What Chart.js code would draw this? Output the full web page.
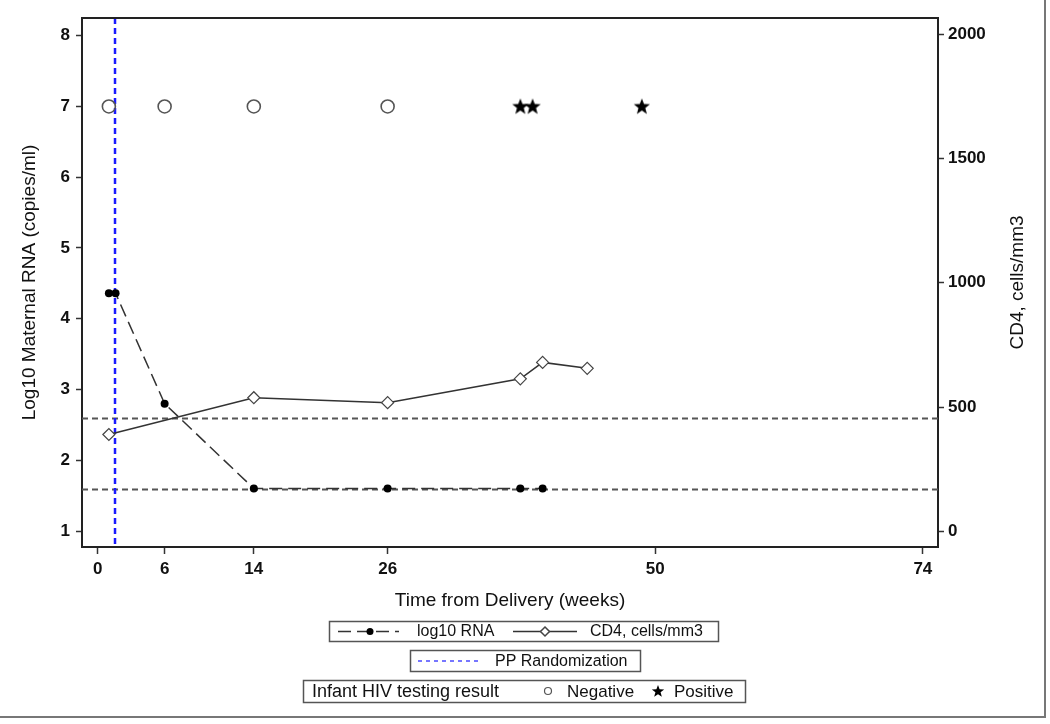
<!DOCTYPE html>
<html lang="en">
<head>
  <meta charset="UTF-8" />
  <title>Maternal RNA and CD4 after delivery</title>
  <script src="https://cdn.jsdelivr.net/npm/chart.js"></script>
  <style>
    html, body { margin: 0; padding: 0; background: #fff; }
    #wrap { width: 1050px; height: 724px; position: relative; }
  </style>
</head>
<body>
  <div id="wrap"><canvas id="chart" width="1050" height="724"></canvas></div>

  <script>
    // x axis (weeks from delivery)
    const xTicks = [0, 6, 14, 26, 50, 74];
    const leftTicks = [1, 2, 3, 4, 5, 6, 7, 8];
    const rightTicks = [0, 500, 1000, 1500, 2000];

    // maternal log10 RNA
    const rnaWeeks = [1, 1.6, 6, 14, 26, 37.9, 39.9];
    const rnaValues = [4.36, 4.36, 2.8, 1.6, 1.6, 1.6, 1.6];

    // CD4 cells/mm3
    const cd4Weeks = [1, 14, 26, 37.9, 39.9, 43.9];
    const cd4Values = [390, 538, 518, 614, 680, 656];

    // infant HIV test results (drawn on the row at log10 = 7)
    const infantRow = 7;
    const negativeWeeks = [1, 6, 14, 26];
    const positiveWeeks = [37.9, 39, 48.8];

    // reference lines and randomization time
    const refLines = [2.6, 1.6];
    const randomizationWeek = 1.55;

    const FONT = '"Liberation Sans", Arial, sans-serif';
    Chart.defaults.font.family = FONT;
    Chart.defaults.color = '#111';

    function starPath(ctx, cx, cy, outer, inner) {
      ctx.beginPath();
      for (let i = 0; i < 10; i++) {
        const r = i % 2 === 0 ? outer : inner;
        const a = -Math.PI / 2 + i * Math.PI / 5;
        const px = cx + r * Math.cos(a), py = cy + r * Math.sin(a);
        if (i === 0) ctx.moveTo(px, py); else ctx.lineTo(px, py);
      }
      ctx.closePath();
    }

    // filled star used as a point style
    const starImg = document.createElement('canvas');
    starImg.width = 20; starImg.height = 20;
    (function () {
      const c = starImg.getContext('2d');
      c.fillStyle = '#000';
      starPath(c, 10, 10.5, 8.5, 3.6);
      c.fill();
    })();

    const pairs = (xs, ys) => xs.map((x, i) => ({ x, y: ys[i] }));
    const plain = v => String(v);

    const overlay = {
      id: 'overlay',
      beforeDatasetsDraw(chart) {
        const { ctx, chartArea: a, scales } = chart;
        ctx.save();
        ctx.strokeStyle = '#555';
        ctx.lineWidth = 1.8;
        ctx.setLineDash([6, 4]);
        refLines.forEach(v => {
          const y = Math.round(scales.y.getPixelForValue(v)) + 0.5;
          ctx.beginPath(); ctx.moveTo(a.left, y); ctx.lineTo(a.right, y); ctx.stroke();
        });
        ctx.strokeStyle = '#1a1aff';
        ctx.lineWidth = 2.5;
        ctx.setLineDash([6, 4]);
        const x = scales.x.getPixelForValue(randomizationWeek);
        ctx.beginPath(); ctx.moveTo(x, a.top); ctx.lineTo(x, a.bottom); ctx.stroke();
        ctx.restore();
      },
      afterDraw(chart) {
        const { ctx, chartArea: a } = chart;
        ctx.save();
        // top frame line
        ctx.strokeStyle = '#222'; ctx.lineWidth = 2;
        ctx.beginPath(); ctx.moveTo(a.left, a.top); ctx.lineTo(a.right, a.top); ctx.stroke();

        // right axis title, reads upward
        ctx.fillStyle = '#111';
        ctx.font = '19px ' + FONT;
        ctx.textAlign = 'center'; ctx.textBaseline = 'middle';
        ctx.translate(1018, (a.top + a.bottom) / 2);
        ctx.rotate(-Math.PI / 2);
        ctx.fillText('CD4, cells/mm3', 0, 0);
        ctx.setTransform(1, 0, 0, 1, 0, 0);

        // legend boxes
        ctx.strokeStyle = '#555'; ctx.lineWidth = 1.5;
        ctx.strokeRect(329.5, 621.5, 389, 20);
        ctx.strokeRect(410.5, 650.5, 230, 21);
        ctx.strokeRect(303.5, 680.5, 442, 22);

        ctx.textAlign = 'left';
        // box 1
        ctx.strokeStyle = '#333'; ctx.lineWidth = 1.5; ctx.setLineDash([13, 6]);
        ctx.beginPath(); ctx.moveTo(338, 631.5); ctx.lineTo(399, 631.5); ctx.stroke();
        ctx.setLineDash([]);
        ctx.fillStyle = '#000';
        ctx.beginPath(); ctx.arc(370, 631.5, 3.5, 0, Math.PI * 2); ctx.fill();
        ctx.beginPath(); ctx.moveTo(513, 631.5); ctx.lineTo(577, 631.5); ctx.stroke();
        ctx.fillStyle = '#fff'; ctx.strokeStyle = '#444';
        ctx.beginPath();
        ctx.moveTo(545, 627); ctx.lineTo(549.5, 631.5); ctx.lineTo(545, 636); ctx.lineTo(540.5, 631.5);
        ctx.closePath(); ctx.fill(); ctx.stroke();
        ctx.fillStyle = '#111';
        ctx.font = '16px ' + FONT;
        ctx.fillText('log10 RNA', 417, 632);
        ctx.fillText('CD4, cells/mm3', 590, 632);

        // box 2
        ctx.strokeStyle = '#4a4aff'; ctx.lineWidth = 1.3; ctx.setLineDash([4, 4]);
        ctx.beginPath(); ctx.moveTo(418, 661); ctx.lineTo(478, 661); ctx.stroke();
        ctx.setLineDash([]);
        ctx.fillText('PP Randomization', 495, 661.5);

        // box 3
        ctx.font = '18px ' + FONT;
        ctx.fillText('Infant HIV testing result', 312, 692);
        ctx.strokeStyle = '#555'; ctx.lineWidth = 1.2;
        ctx.beginPath(); ctx.arc(548, 691, 3.5, 0, Math.PI * 2); ctx.stroke();
        ctx.font = '17px ' + FONT;
        ctx.fillText('Negative', 567, 692);
        ctx.fillStyle = '#000';
        starPath(ctx, 658, 691.5, 6.5, 2.7); ctx.fill();
        ctx.fillStyle = '#111';
        ctx.fillText('Positive', 674, 692);

        // outer figure border
        ctx.strokeStyle = '#777'; ctx.lineWidth = 2;
        ctx.beginPath(); ctx.moveTo(1045, 0); ctx.lineTo(1045, 717); ctx.lineTo(0, 717); ctx.stroke();
        ctx.restore();
      }
    };

    const tickFont = { size: 17, weight: 'bold' };

    new Chart(document.getElementById('chart').getContext('2d'), {
      type: 'line',
      data: {
        datasets: [
          {
            label: 'log10 RNA',
            data: pairs(rnaWeeks, rnaValues),
            yAxisID: 'y',
            borderColor: '#333',
            borderWidth: 1.5,
            borderDash: [13, 6],
            pointStyle: 'circle',
            pointRadius: 4,
            pointBackgroundColor: '#000',
            pointBorderColor: '#000',
            pointBorderWidth: 0,
            tension: 0
          },
          {
            label: 'CD4, cells/mm3',
            data: pairs(cd4Weeks, cd4Values),
            yAxisID: 'y2',
            borderColor: '#333',
            borderWidth: 1.5,
            pointStyle: 'rectRot',
            pointRadius: 6,
            pointBackgroundColor: '#fff',
            pointBorderColor: '#444',
            pointBorderWidth: 1.2,
            tension: 0
          },
          {
            label: 'Negative',
            data: negativeWeeks.map(x => ({ x, y: infantRow })),
            yAxisID: 'y',
            showLine: false,
            pointStyle: 'circle',
            pointRadius: 6.5,
            pointBackgroundColor: 'rgba(255,255,255,0)',
            pointBorderColor: '#555',
            pointBorderWidth: 1.6
          },
          {
            label: 'Positive',
            data: positiveWeeks.map(x => ({ x, y: infantRow })),
            yAxisID: 'y',
            showLine: false,
            pointStyle: starImg,
            pointRadius: 8
          }
        ]
      },
      options: {
        responsive: false,
        animation: false,
        events: [],
        layout: { padding: { left: 0, right: 0, top: 18, bottom: 112 } },
        plugins: { legend: { display: false }, tooltip: { enabled: false } },
        scales: {
          x: {
            type: 'linear',
            min: -1.41,
            max: 75.36,
            afterBuildTicks: s => { s.ticks = xTicks.map(v => ({ value: v })); },
            afterFit: s => { s.height = 65; },
            ticks: { font: tickFont, padding: 5, color: '#111', callback: plain },
            grid: { drawOnChartArea: false, tickLength: 7, color: '#333', tickWidth: 1.5 },
            border: { color: '#222', width: 2 },
            title: { display: true, text: 'Time from Delivery (weeks)', font: { size: 19 }, padding: 0, color: '#111' }
          },
          y: {
            position: 'left',
            min: 0.774,
            max: 8.25,
            afterBuildTicks: s => { s.ticks = leftTicks.map(v => ({ value: v })); },
            afterFit: s => { s.width = 82; },
            ticks: { font: tickFont, padding: 6, color: '#111', callback: plain },
            grid: { drawOnChartArea: false, tickLength: 6, color: '#333', tickWidth: 1.5 },
            border: { color: '#222', width: 2 },
            title: { display: true, text: 'Log10 Maternal RNA (copies/ml)', font: { size: 19 }, padding: { top: 18, bottom: 0 }, color: '#111' }
          },
          y2: {
            position: 'right',
            min: -62.3,
            max: 2064.7,
            afterBuildTicks: s => { s.ticks = rightTicks.map(v => ({ value: v })); },
            afterFit: s => { s.width = 112; },
            ticks: { font: tickFont, padding: 4, color: '#111', callback: plain },
            grid: { drawOnChartArea: false, tickLength: 6, color: '#333', tickWidth: 1.5 },
            border: { color: '#222', width: 2 }
          }
        }
      },
      plugins: [overlay]
    });
  </script>
</body>
</html>
